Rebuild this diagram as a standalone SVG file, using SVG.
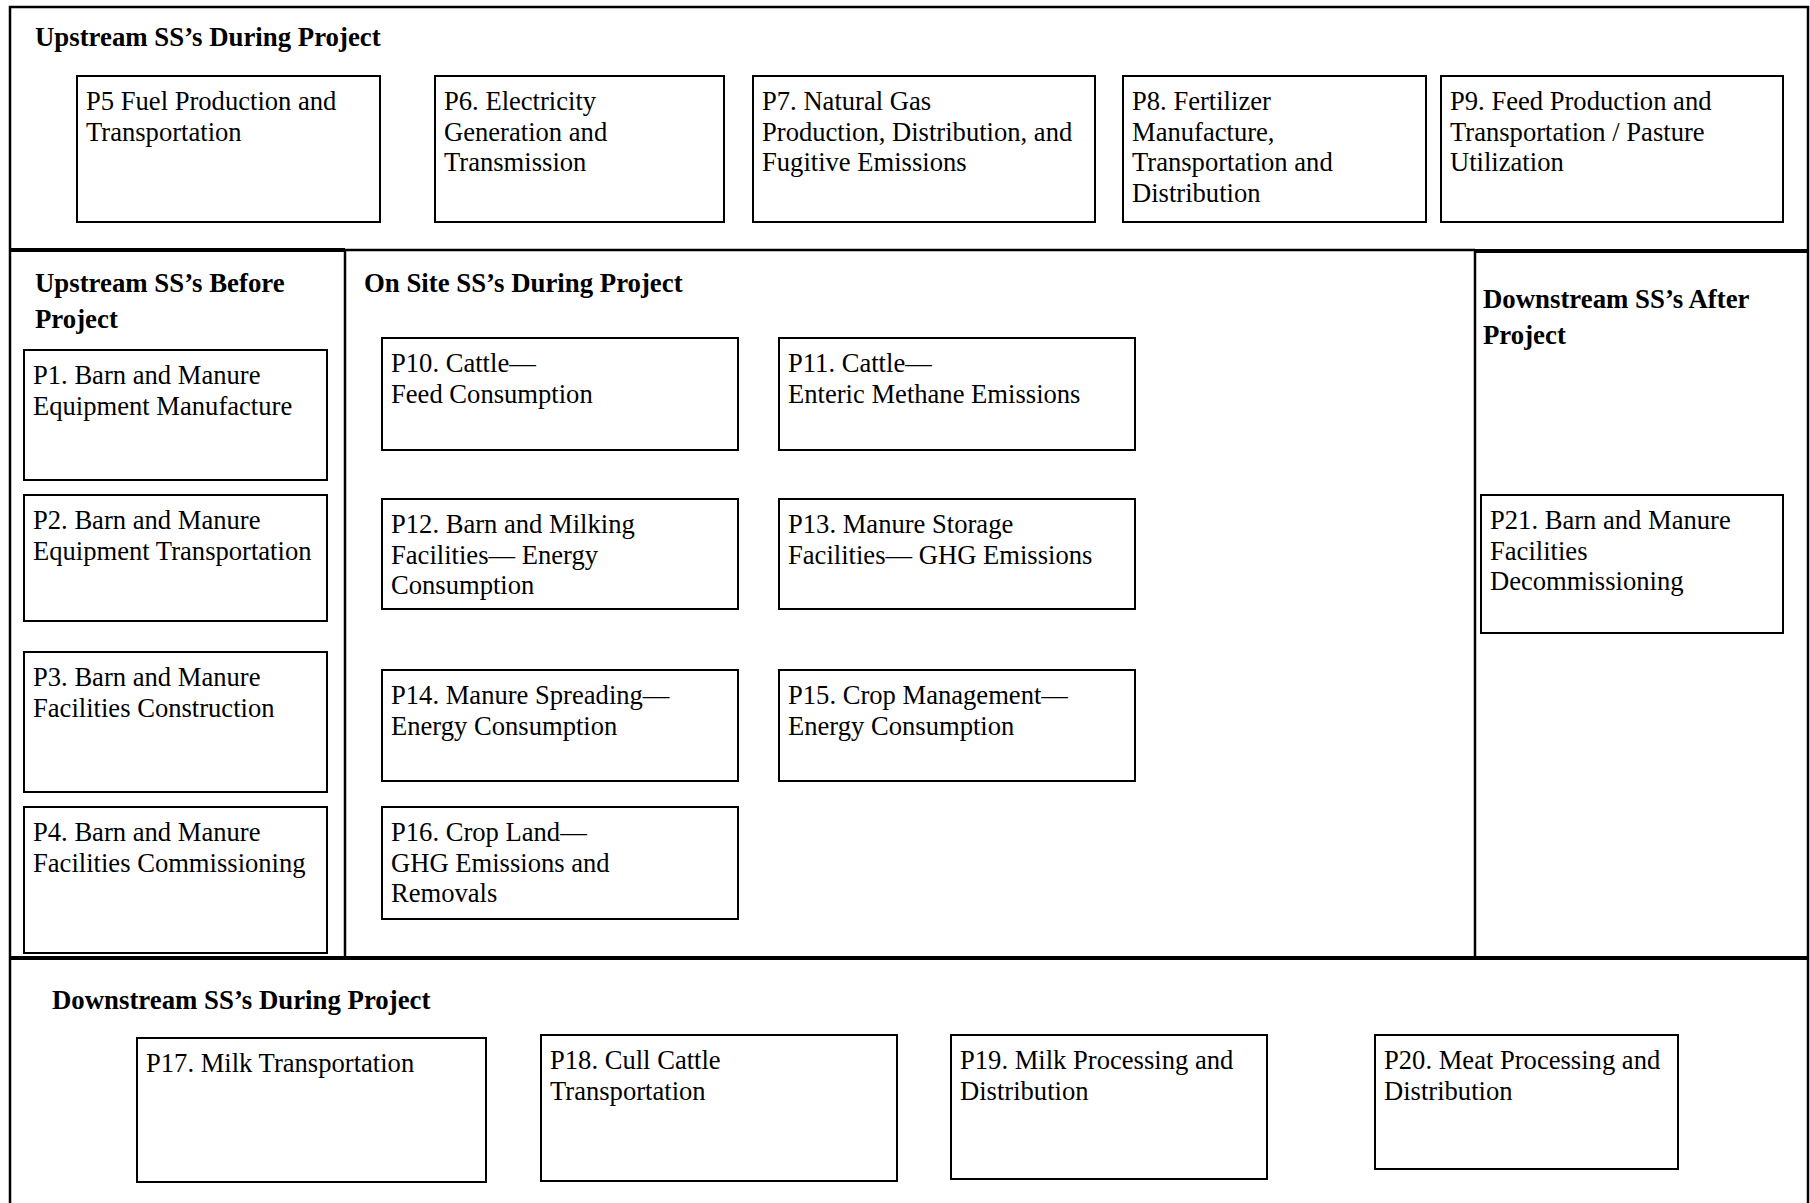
<svg xmlns="http://www.w3.org/2000/svg" width="1810" height="1203" viewBox="0 0 1810 1203">
<style>
  .bg { fill: #ffffff; }
  .frame { fill: none; stroke: #000; stroke-width: 2.5; }
  .div { stroke: #000; stroke-width: 2.5; fill: none; }
  .divthick { stroke: #000; stroke-width: 4; fill: none; }
  .box { fill: #fff; stroke: #000; stroke-width: 2; }
  .t { font-family: "Liberation Serif", "Times New Roman", serif; font-size: 26.6px; fill: #000; }
  .h { font-family: "Liberation Serif", "Times New Roman", serif; font-size: 26.8px; font-weight: bold; fill: #000; }
</style>
<rect class="bg" x="0" y="0" width="1810" height="1203"/>

<g id="frames">
  <rect class="frame" x="10" y="7" width="1798" height="1210"/>
  <line class="div" x1="345" y1="250" x2="1475" y2="250"/>
  <line class="divthick" x1="10" y1="250" x2="345" y2="250"/>
  <line class="divthick" x1="1475" y1="251" x2="1808" y2="251"/>
  <line class="div" x1="345" y1="250" x2="345" y2="958"/>
  <line class="div" x1="1475" y1="250" x2="1475" y2="958"/>
  <line class="divthick" x1="10" y1="958" x2="1808" y2="958"/>
</g>

<g id="section-headers">
  <text class="h" x="35" y="46">Upstream SS’s During Project</text>
  <text class="h" x="35" y="292">Upstream SS’s Before</text>
  <text class="h" x="35" y="328">Project</text>
  <text class="h" x="364" y="292">On Site SS’s During Project</text>
  <text class="h" x="1483" y="308">Downstream SS’s After</text>
  <text class="h" x="1483" y="344">Project</text>
  <text class="h" x="52" y="1009">Downstream SS’s During Project</text>
</g>

<g id="connectors"></g>

<g id="P5">
  <rect class="box" x="77" y="76" width="303" height="146"/>
  <text class="t" x="86" y="110">P5 Fuel Production and</text>
  <text class="t" x="86" y="140.5">Transportation</text>
</g>
<g id="P6">
  <rect class="box" x="435" y="76" width="289" height="146"/>
  <text class="t" x="444" y="110">P6. Electricity</text>
  <text class="t" x="444" y="140.5">Generation and</text>
  <text class="t" x="444" y="171">Transmission</text>
</g>
<g id="P7">
  <rect class="box" x="753" y="76" width="342" height="146"/>
  <text class="t" x="762" y="110">P7. Natural Gas</text>
  <text class="t" x="762" y="140.5">Production, Distribution, and</text>
  <text class="t" x="762" y="171">Fugitive Emissions</text>
</g>
<g id="P8">
  <rect class="box" x="1123" y="76" width="303" height="146"/>
  <text class="t" x="1132" y="110">P8. Fertilizer</text>
  <text class="t" x="1132" y="140.5">Manufacture,</text>
  <text class="t" x="1132" y="171">Transportation and</text>
  <text class="t" x="1132" y="201.5">Distribution</text>
</g>
<g id="P9">
  <rect class="box" x="1441" y="76" width="342" height="146"/>
  <text class="t" x="1450" y="110">P9. Feed Production and</text>
  <text class="t" x="1450" y="140.5">Transportation / Pasture</text>
  <text class="t" x="1450" y="171">Utilization</text>
</g>

<g id="P1">
  <rect class="box" x="24" y="350" width="303" height="130"/>
  <text class="t" x="33" y="384">P1. Barn and Manure</text>
  <text class="t" x="33" y="414.5">Equipment Manufacture</text>
</g>
<g id="P2">
  <rect class="box" x="24" y="495" width="303" height="126"/>
  <text class="t" x="33" y="529">P2. Barn and Manure</text>
  <text class="t" x="33" y="559.5">Equipment Transportation</text>
</g>
<g id="P3">
  <rect class="box" x="24" y="652" width="303" height="140"/>
  <text class="t" x="33" y="686">P3. Barn and Manure</text>
  <text class="t" x="33" y="716.5">Facilities Construction</text>
</g>
<g id="P4">
  <rect class="box" x="24" y="807" width="303" height="146"/>
  <text class="t" x="33" y="841">P4. Barn and Manure</text>
  <text class="t" x="33" y="871.5">Facilities Commissioning</text>
</g>

<g id="P10">
  <rect class="box" x="382" y="338" width="356" height="112"/>
  <text class="t" x="391" y="372">P10. Cattle—</text>
  <text class="t" x="391" y="402.5">Feed Consumption</text>
</g>
<g id="P11">
  <rect class="box" x="779" y="338" width="356" height="112"/>
  <text class="t" x="788" y="372">P11. Cattle—</text>
  <text class="t" x="788" y="402.5">Enteric Methane Emissions</text>
</g>
<g id="P12">
  <rect class="box" x="382" y="499" width="356" height="110"/>
  <text class="t" x="391" y="533">P12. Barn and Milking</text>
  <text class="t" x="391" y="563.5">Facilities— Energy</text>
  <text class="t" x="391" y="594">Consumption</text>
</g>
<g id="P13">
  <rect class="box" x="779" y="499" width="356" height="110"/>
  <text class="t" x="788" y="533">P13. Manure Storage</text>
  <text class="t" x="788" y="563.5">Facilities— GHG Emissions</text>
</g>
<g id="P14">
  <rect class="box" x="382" y="670" width="356" height="111"/>
  <text class="t" x="391" y="704">P14. Manure Spreading—</text>
  <text class="t" x="391" y="734.5">Energy Consumption</text>
</g>
<g id="P15">
  <rect class="box" x="779" y="670" width="356" height="111"/>
  <text class="t" x="788" y="704">P15. Crop Management—</text>
  <text class="t" x="788" y="734.5">Energy Consumption</text>
</g>
<g id="P16">
  <rect class="box" x="382" y="807" width="356" height="112"/>
  <text class="t" x="391" y="841">P16. Crop Land—</text>
  <text class="t" x="391" y="871.5">GHG Emissions and</text>
  <text class="t" x="391" y="902">Removals</text>
</g>

<g id="P21">
  <rect class="box" x="1481" y="495" width="302" height="138"/>
  <text class="t" x="1490" y="529">P21. Barn and Manure</text>
  <text class="t" x="1490" y="559.5">Facilities</text>
  <text class="t" x="1490" y="590">Decommissioning</text>
</g>

<g id="P17">
  <rect class="box" x="137" y="1038" width="349" height="144"/>
  <text class="t" x="146" y="1072">P17. Milk Transportation</text>
</g>
<g id="P18">
  <rect class="box" x="541" y="1035" width="356" height="146"/>
  <text class="t" x="550" y="1069">P18. Cull Cattle</text>
  <text class="t" x="550" y="1099.5">Transportation</text>
</g>
<g id="P19">
  <rect class="box" x="951" y="1035" width="316" height="144"/>
  <text class="t" x="960" y="1069">P19. Milk Processing and</text>
  <text class="t" x="960" y="1099.5">Distribution</text>
</g>
<g id="P20">
  <rect class="box" x="1375" y="1035" width="303" height="134"/>
  <text class="t" x="1384" y="1069">P20. Meat Processing and</text>
  <text class="t" x="1384" y="1099.5">Distribution</text>
</g>
</svg>
